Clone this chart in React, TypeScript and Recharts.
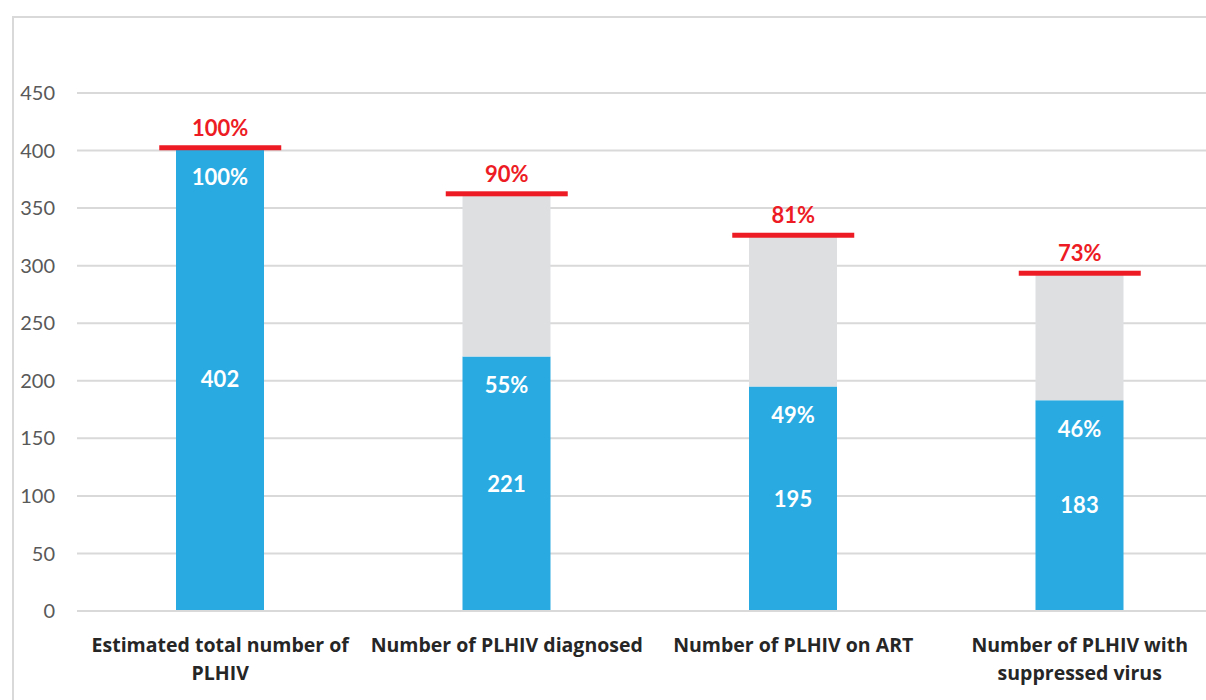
import {
  ComposedChart,
  Bar,
  Scatter,
  XAxis,
  YAxis,
  CartesianGrid,
  LabelList,
} from 'recharts';

const BLUE = '#29abe2';
const GREY = '#dedfe1';
const RED = '#ed1c24';

const categories = [
  'Estimated total number of\nPLHIV',
  'Number of PLHIV diagnosed',
  'Number of PLHIV on ART',
  'Number of PLHIV with\nsuppressed virus',
];
const reached = [402, 221, 195, 183];
const reachedPct = ['100%', '55%', '49%', '46%'];
const targets = [402, 362, 326, 293];
const targetPct = ['100%', '90%', '81%', '73%'];
const yTicks = [0, 50, 100, 150, 200, 250, 300, 350, 400, 450];

const data = categories.map((name, i) => ({
  name,
  reached: reached[i],
  reachedPct: reachedPct[i],
  gap: targets[i] - reached[i],
  target: targets[i],
  targetPct: targetPct[i],
}));

function CategoryTick({ x, y, payload }: any) {
  const lines = String(payload.value).split('\n');
  return (
    <text
      x={x}
      y={y + 25}
      textAnchor="middle"
      dominantBaseline="central"
      fill="#262626"
      fontSize={19.5}
      fontWeight={700}
      fontFamily="'Open Sans', sans-serif"
    >
      {lines.map((l, i) => (
        <tspan key={i} x={x} dy={i === 0 ? 0 : 28}>
          {l}
        </tspan>
      ))}
    </text>
  );
}

function TargetMarker({ cx, cy, payload }: any) {
  return (
    <g>
      <rect x={cx - 61} y={cy - 3} width={122} height={5} fill={RED} />
      <text
        x={cx}
        y={cy - 21}
        textAnchor="middle"
        dominantBaseline="central"
        fill={RED}
        fontSize={22}
        fontWeight={700}
      >
        {payload.targetPct}
      </text>
    </g>
  );
}

export default function App() {
  return (
    <div
      style={{
        position: 'absolute',
        left: 0,
        top: 0,
        width: 1206,
        height: 700,
        overflow: 'hidden',
        background: '#fff',
        fontFamily: 'Lato, sans-serif',
      }}
    >
      <div
        style={{
          position: 'absolute',
          left: 12,
          top: 16,
          width: 1194,
          height: 684,
          borderLeft: '2px solid #d9d9d9',
          borderTop: '2px solid #d9d9d9',
          boxSizing: 'border-box',
        }}
      />
      <div style={{ position: 'absolute', left: 0, top: 0 }}>
        <ComposedChart
          width={1240}
          height={700}
          data={data}
          margin={{ top: 93, right: 17, left: 0, bottom: 29 }}
          barCategoryGap={0}
        >
          <CartesianGrid vertical={false} stroke="#d9d9d9" strokeWidth={2} />
          <XAxis
            dataKey="name"
            height={60}
            tickLine={false}
            axisLine={{ stroke: '#d9d9d9', strokeWidth: 2 }}
            tick={<CategoryTick />}
            interval={0}
          />
          <YAxis
            width={77}
            domain={[0, 450]}
            ticks={yTicks}
            axisLine={false}
            tickLine={false}
            tickSize={0}
            tickMargin={22}
            tick={{ fill: '#595959', fontSize: 20 }}
          />
          <Bar dataKey="reached" stackId="a" fill={BLUE} barSize={88} isAnimationActive={false}>
            <LabelList
              dataKey="reached"
              position="center"
              fill="#fff"
              fontSize={22}
              fontWeight={700}
            />
            <LabelList
              dataKey="reachedPct"
              content={(p: any) => (
                <text
                  x={p.x + p.width / 2}
                  y={p.y + 28}
                  textAnchor="middle"
                  dominantBaseline="central"
                  fill="#fff"
                  fontSize={22}
                  fontWeight={700}
                >
                  {p.value}
                </text>
              )}
            />
          </Bar>
          <Bar dataKey="gap" stackId="a" fill={GREY} barSize={88} isAnimationActive={false} />
          <Scatter dataKey="target" shape={<TargetMarker />} isAnimationActive={false} />
        </ComposedChart>
      </div>
    </div>
  );
}
